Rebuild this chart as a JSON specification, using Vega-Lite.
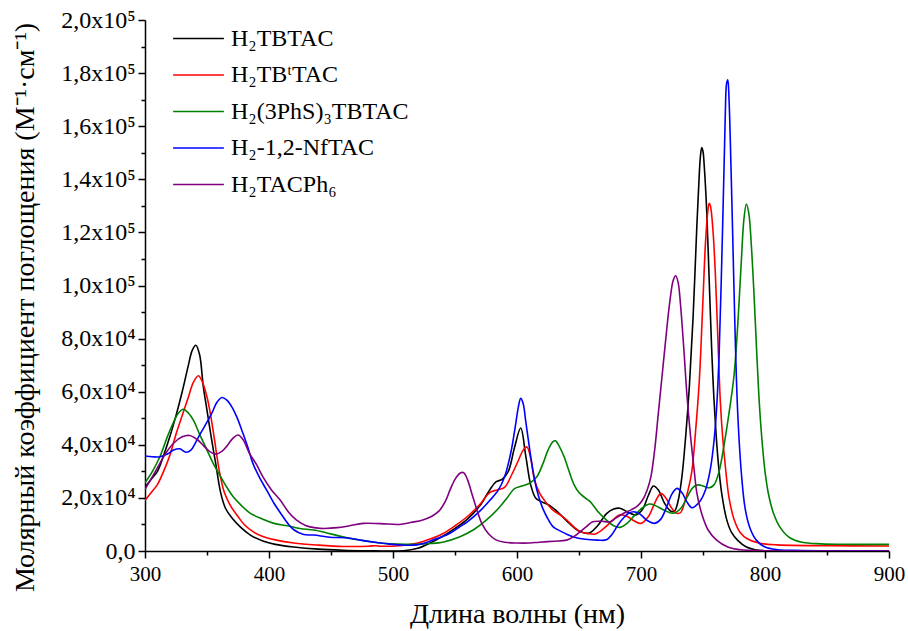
{
"$schema":"https://vega.github.io/schema/vega-lite/v6.json",
"width":744,"height":531,
"autosize":"none",
"padding":{"left":145,"top":20,"right":19,"bottom":80},
"background":"white",
"config":{"view":{"stroke":null},
"axis":{"domainColor":"black","domainWidth":1.5,"tickColor":"black","tickWidth":1.5,"grid":false,"labelColor":"black","titleColor":"black","labelFont":"Liberation Serif","titleFont":"Liberation Serif","titleFontWeight":"normal","labelFontSize":21,"titleFontSize":28,"labelFlush":false}},
"data":{"values":[
{"s":"H₂TBTAC","x":300,"y":24000},{"s":"H₂TBTAC","x":305,"y":27000},{"s":"H₂TBTAC","x":310,"y":30000},{"s":"H₂TBTAC","x":315,"y":36000},{"s":"H₂TBTAC","x":320,"y":43000},{"s":"H₂TBTAC","x":325,"y":51000},{"s":"H₂TBTAC","x":330,"y":60000},{"s":"H₂TBTAC","x":335,"y":70000},{"s":"H₂TBTAC","x":338,"y":75500},{"s":"H₂TBTAC","x":341,"y":77500},{"s":"H₂TBTAC","x":344,"y":74000},{"s":"H₂TBTAC","x":347,"y":62000},{"s":"H₂TBTAC","x":350,"y":53000},{"s":"H₂TBTAC","x":353,"y":44000},{"s":"H₂TBTAC","x":357,"y":33000},{"s":"H₂TBTAC","x":361,"y":22000},{"s":"H₂TBTAC","x":365,"y":16000},{"s":"H₂TBTAC","x":370,"y":12500},{"s":"H₂TBTAC","x":377,"y":9000},{"s":"H₂TBTAC","x":385,"y":6000},{"s":"H₂TBTAC","x":395,"y":3800},{"s":"H₂TBTAC","x":405,"y":2500},{"s":"H₂TBTAC","x":420,"y":1500},{"s":"H₂TBTAC","x":440,"y":700},{"s":"H₂TBTAC","x":460,"y":300},{"s":"H₂TBTAC","x":480,"y":100},{"s":"H₂TBTAC","x":500,"y":0},{"s":"H₂TBTAC","x":510,"y":200},{"s":"H₂TBTAC","x":520,"y":1000},{"s":"H₂TBTAC","x":530,"y":3000},{"s":"H₂TBTAC","x":540,"y":5500},{"s":"H₂TBTAC","x":550,"y":8500},{"s":"H₂TBTAC","x":560,"y":12000},{"s":"H₂TBTAC","x":570,"y":17000},{"s":"H₂TBTAC","x":578,"y":23000},{"s":"H₂TBTAC","x":583,"y":26000},{"s":"H₂TBTAC","x":588,"y":27000},{"s":"H₂TBTAC","x":593,"y":30000},{"s":"H₂TBTAC","x":598,"y":39000},{"s":"H₂TBTAC","x":603,"y":46300},{"s":"H₂TBTAC","x":607,"y":36000},{"s":"H₂TBTAC","x":611,"y":25000},{"s":"H₂TBTAC","x":615,"y":20000},{"s":"H₂TBTAC","x":620,"y":18500},{"s":"H₂TBTAC","x":626,"y":17300},{"s":"H₂TBTAC","x":634,"y":14200},{"s":"H₂TBTAC","x":642,"y":10500},{"s":"H₂TBTAC","x":650,"y":7500},{"s":"H₂TBTAC","x":658,"y":6700},{"s":"H₂TBTAC","x":665,"y":9500},{"s":"H₂TBTAC","x":672,"y":14000},{"s":"H₂TBTAC","x":678,"y":15800},{"s":"H₂TBTAC","x":683,"y":16100},{"s":"H₂TBTAC","x":690,"y":14500},{"s":"H₂TBTAC","x":696,"y":13600},{"s":"H₂TBTAC","x":701,"y":15500},{"s":"H₂TBTAC","x":706,"y":21000},{"s":"H₂TBTAC","x":710,"y":24500},{"s":"H₂TBTAC","x":714,"y":23000},{"s":"H₂TBTAC","x":719,"y":18000},{"s":"H₂TBTAC","x":724,"y":15000},{"s":"H₂TBTAC","x":727,"y":15000},{"s":"H₂TBTAC","x":730,"y":19000},{"s":"H₂TBTAC","x":733,"y":28000},{"s":"H₂TBTAC","x":736,"y":43000},{"s":"H₂TBTAC","x":739,"y":62000},{"s":"H₂TBTAC","x":742,"y":88000},{"s":"H₂TBTAC","x":745,"y":122000},{"s":"H₂TBTAC","x":747,"y":142000},{"s":"H₂TBTAC","x":748,"y":149000},{"s":"H₂TBTAC","x":749,"y":152000},{"s":"H₂TBTAC","x":750,"y":150500},{"s":"H₂TBTAC","x":751,"y":145000},{"s":"H₂TBTAC","x":753,"y":128000},{"s":"H₂TBTAC","x":755,"y":102000},{"s":"H₂TBTAC","x":757,"y":76000},{"s":"H₂TBTAC","x":759,"y":56000},{"s":"H₂TBTAC","x":762,"y":35000},{"s":"H₂TBTAC","x":765,"y":22000},{"s":"H₂TBTAC","x":769,"y":12000},{"s":"H₂TBTAC","x":773,"y":7000},{"s":"H₂TBTAC","x":778,"y":4000},{"s":"H₂TBTAC","x":785,"y":1500},{"s":"H₂TBTAC","x":792,"y":500},{"s":"H₂TBTAC","x":800,"y":100},{"s":"H₂TBTAC","x":850,"y":0},{"s":"H₂TBTAC","x":900,"y":0},

{"s":"H₂TBᵗTAC","x":300,"y":19000},{"s":"H₂TBᵗTAC","x":305,"y":22000},{"s":"H₂TBᵗTAC","x":310,"y":25000},{"s":"H₂TBᵗTAC","x":315,"y":30000},{"s":"H₂TBᵗTAC","x":320,"y":36000},{"s":"H₂TBᵗTAC","x":325,"y":44000},{"s":"H₂TBᵗTAC","x":330,"y":51000},{"s":"H₂TBᵗTAC","x":335,"y":58000},{"s":"H₂TBᵗTAC","x":339,"y":63500},{"s":"H₂TBᵗTAC","x":343,"y":66000},{"s":"H₂TBᵗTAC","x":346,"y":64000},{"s":"H₂TBᵗTAC","x":350,"y":58000},{"s":"H₂TBᵗTAC","x":353,"y":51000},{"s":"H₂TBᵗTAC","x":356,"y":42000},{"s":"H₂TBᵗTAC","x":360,"y":30000},{"s":"H₂TBᵗTAC","x":364,"y":22000},{"s":"H₂TBᵗTAC","x":369,"y":17000},{"s":"H₂TBᵗTAC","x":375,"y":13000},{"s":"H₂TBᵗTAC","x":380,"y":10000},{"s":"H₂TBᵗTAC","x":388,"y":7000},{"s":"H₂TBᵗTAC","x":395,"y":5500},{"s":"H₂TBᵗTAC","x":405,"y":4200},{"s":"H₂TBᵗTAC","x":420,"y":3000},{"s":"H₂TBᵗTAC","x":440,"y":2200},{"s":"H₂TBᵗTAC","x":460,"y":1700},{"s":"H₂TBᵗTAC","x":480,"y":1800},{"s":"H₂TBᵗTAC","x":486,"y":2000},{"s":"H₂TBᵗTAC","x":490,"y":1800},{"s":"H₂TBᵗTAC","x":505,"y":2000},{"s":"H₂TBᵗTAC","x":520,"y":3000},{"s":"H₂TBᵗTAC","x":530,"y":4500},{"s":"H₂TBᵗTAC","x":540,"y":6500},{"s":"H₂TBᵗTAC","x":550,"y":9500},{"s":"H₂TBᵗTAC","x":560,"y":13000},{"s":"H₂TBᵗTAC","x":570,"y":17500},{"s":"H₂TBᵗTAC","x":578,"y":22000},{"s":"H₂TBᵗTAC","x":584,"y":23000},{"s":"H₂TBᵗTAC","x":590,"y":24000},{"s":"H₂TBᵗTAC","x":596,"y":29000},{"s":"H₂TBᵗTAC","x":601,"y":34000},{"s":"H₂TBᵗTAC","x":605,"y":38000},{"s":"H₂TBᵗTAC","x":608,"y":39200},{"s":"H₂TBᵗTAC","x":611,"y":35000},{"s":"H₂TBᵗTAC","x":614,"y":27000},{"s":"H₂TBᵗTAC","x":618,"y":22000},{"s":"H₂TBᵗTAC","x":623,"y":18500},{"s":"H₂TBᵗTAC","x":629,"y":15400},{"s":"H₂TBᵗTAC","x":635,"y":13500},{"s":"H₂TBᵗTAC","x":640,"y":11700},{"s":"H₂TBᵗTAC","x":646,"y":9000},{"s":"H₂TBᵗTAC","x":651,"y":7300},{"s":"H₂TBᵗTAC","x":657,"y":6600},{"s":"H₂TBᵗTAC","x":663,"y":6400},{"s":"H₂TBᵗTAC","x":670,"y":8500},{"s":"H₂TBᵗTAC","x":677,"y":11500},{"s":"H₂TBᵗTAC","x":683,"y":13600},{"s":"H₂TBᵗTAC","x":689,"y":13000},{"s":"H₂TBᵗTAC","x":695,"y":11200},{"s":"H₂TBᵗTAC","x":700,"y":10400},{"s":"H₂TBᵗTAC","x":706,"y":13000},{"s":"H₂TBᵗTAC","x":712,"y":19000},{"s":"H₂TBᵗTAC","x":716,"y":21700},{"s":"H₂TBᵗTAC","x":720,"y":20000},{"s":"H₂TBᵗTAC","x":725,"y":16000},{"s":"H₂TBᵗTAC","x":729,"y":14200},{"s":"H₂TBᵗTAC","x":732,"y":14500},{"s":"H₂TBᵗTAC","x":735,"y":18000},{"s":"H₂TBᵗTAC","x":738,"y":23000},{"s":"H₂TBᵗTAC","x":741,"y":30000},{"s":"H₂TBᵗTAC","x":744,"y":45000},{"s":"H₂TBᵗTAC","x":747,"y":64000},{"s":"H₂TBᵗTAC","x":750,"y":95000},{"s":"H₂TBᵗTAC","x":752,"y":116000},{"s":"H₂TBᵗTAC","x":754,"y":128500},{"s":"H₂TBᵗTAC","x":755,"y":131000},{"s":"H₂TBᵗTAC","x":756,"y":130000},{"s":"H₂TBᵗTAC","x":758,"y":121000},{"s":"H₂TBᵗTAC","x":760,"y":104000},{"s":"H₂TBᵗTAC","x":762,"y":80000},{"s":"H₂TBᵗTAC","x":764,"y":56000},{"s":"H₂TBᵗTAC","x":766,"y":42000},{"s":"H₂TBᵗTAC","x":768,"y":32000},{"s":"H₂TBᵗTAC","x":771,"y":20000},{"s":"H₂TBᵗTAC","x":775,"y":12000},{"s":"H₂TBᵗTAC","x":780,"y":7000},{"s":"H₂TBᵗTAC","x":786,"y":4500},{"s":"H₂TBᵗTAC","x":795,"y":3000},{"s":"H₂TBᵗTAC","x":810,"y":2300},{"s":"H₂TBᵗTAC","x":850,"y":2000},{"s":"H₂TBᵗTAC","x":900,"y":1900},

{"s":"H₂(3PhS)₃TBTAC","x":300,"y":25700},{"s":"H₂(3PhS)₃TBTAC","x":306,"y":30000},{"s":"H₂(3PhS)₃TBTAC","x":312,"y":35500},{"s":"H₂(3PhS)₃TBTAC","x":318,"y":43000},{"s":"H₂(3PhS)₃TBTAC","x":323,"y":48500},{"s":"H₂(3PhS)₃TBTAC","x":327,"y":52000},{"s":"H₂(3PhS)₃TBTAC","x":331,"y":53400},{"s":"H₂(3PhS)₃TBTAC","x":335,"y":52000},{"s":"H₂(3PhS)₃TBTAC","x":339,"y":49300},{"s":"H₂(3PhS)₃TBTAC","x":344,"y":44000},{"s":"H₂(3PhS)₃TBTAC","x":350,"y":38000},{"s":"H₂(3PhS)₃TBTAC","x":355,"y":33000},{"s":"H₂(3PhS)₃TBTAC","x":361,"y":28000},{"s":"H₂(3PhS)₃TBTAC","x":366,"y":24000},{"s":"H₂(3PhS)₃TBTAC","x":371,"y":20500},{"s":"H₂(3PhS)₃TBTAC","x":378,"y":17000},{"s":"H₂(3PhS)₃TBTAC","x":385,"y":14200},{"s":"H₂(3PhS)₃TBTAC","x":395,"y":12000},{"s":"H₂(3PhS)₃TBTAC","x":404,"y":10400},{"s":"H₂(3PhS)₃TBTAC","x":415,"y":9500},{"s":"H₂(3PhS)₃TBTAC","x":425,"y":8500},{"s":"H₂(3PhS)₃TBTAC","x":436,"y":7900},{"s":"H₂(3PhS)₃TBTAC","x":446,"y":6900},{"s":"H₂(3PhS)₃TBTAC","x":457,"y":5600},{"s":"H₂(3PhS)₃TBTAC","x":468,"y":4500},{"s":"H₂(3PhS)₃TBTAC","x":479,"y":3700},{"s":"H₂(3PhS)₃TBTAC","x":490,"y":3000},{"s":"H₂(3PhS)₃TBTAC","x":498,"y":2700},{"s":"H₂(3PhS)₃TBTAC","x":510,"y":2500},{"s":"H₂(3PhS)₃TBTAC","x":519,"y":2500},{"s":"H₂(3PhS)₃TBTAC","x":530,"y":2800},{"s":"H₂(3PhS)₃TBTAC","x":540,"y":3300},{"s":"H₂(3PhS)₃TBTAC","x":554,"y":5400},{"s":"H₂(3PhS)₃TBTAC","x":565,"y":8000},{"s":"H₂(3PhS)₃TBTAC","x":575,"y":11500},{"s":"H₂(3PhS)₃TBTAC","x":585,"y":16000},{"s":"H₂(3PhS)₃TBTAC","x":592,"y":20000},{"s":"H₂(3PhS)₃TBTAC","x":598,"y":23500},{"s":"H₂(3PhS)₃TBTAC","x":604,"y":24500},{"s":"H₂(3PhS)₃TBTAC","x":610,"y":25500},{"s":"H₂(3PhS)₃TBTAC","x":616,"y":28000},{"s":"H₂(3PhS)₃TBTAC","x":621,"y":33000},{"s":"H₂(3PhS)₃TBTAC","x":625,"y":38000},{"s":"H₂(3PhS)₃TBTAC","x":629,"y":41200},{"s":"H₂(3PhS)₃TBTAC","x":631,"y":41500},{"s":"H₂(3PhS)₃TBTAC","x":634,"y":39500},{"s":"H₂(3PhS)₃TBTAC","x":638,"y":35500},{"s":"H₂(3PhS)₃TBTAC","x":642,"y":30000},{"s":"H₂(3PhS)₃TBTAC","x":646,"y":25000},{"s":"H₂(3PhS)₃TBTAC","x":650,"y":22000},{"s":"H₂(3PhS)₃TBTAC","x":655,"y":20000},{"s":"H₂(3PhS)₃TBTAC","x":659,"y":18600},{"s":"H₂(3PhS)₃TBTAC","x":665,"y":15000},{"s":"H₂(3PhS)₃TBTAC","x":672,"y":11700},{"s":"H₂(3PhS)₃TBTAC","x":678,"y":9500},{"s":"H₂(3PhS)₃TBTAC","x":683,"y":8900},{"s":"H₂(3PhS)₃TBTAC","x":689,"y":10500},{"s":"H₂(3PhS)₃TBTAC","x":695,"y":13500},{"s":"H₂(3PhS)₃TBTAC","x":701,"y":16200},{"s":"H₂(3PhS)₃TBTAC","x":707,"y":17700},{"s":"H₂(3PhS)₃TBTAC","x":712,"y":17000},{"s":"H₂(3PhS)₃TBTAC","x":718,"y":15500},{"s":"H₂(3PhS)₃TBTAC","x":726,"y":14200},{"s":"H₂(3PhS)₃TBTAC","x":732,"y":16000},{"s":"H₂(3PhS)₃TBTAC","x":738,"y":21000},{"s":"H₂(3PhS)₃TBTAC","x":742,"y":24000},{"s":"H₂(3PhS)₃TBTAC","x":746,"y":24900},{"s":"H₂(3PhS)₃TBTAC","x":750,"y":24500},{"s":"H₂(3PhS)₃TBTAC","x":755,"y":23800},{"s":"H₂(3PhS)₃TBTAC","x":759,"y":25000},{"s":"H₂(3PhS)₃TBTAC","x":763,"y":30000},{"s":"H₂(3PhS)₃TBTAC","x":767,"y":40000},{"s":"H₂(3PhS)₃TBTAC","x":771,"y":52000},{"s":"H₂(3PhS)₃TBTAC","x":775,"y":66000},{"s":"H₂(3PhS)₃TBTAC","x":778,"y":85000},{"s":"H₂(3PhS)₃TBTAC","x":781,"y":110000},{"s":"H₂(3PhS)₃TBTAC","x":783,"y":125000},{"s":"H₂(3PhS)₃TBTAC","x":785,"y":130700},{"s":"H₂(3PhS)₃TBTAC","x":787,"y":127000},{"s":"H₂(3PhS)₃TBTAC","x":789,"y":115000},{"s":"H₂(3PhS)₃TBTAC","x":791,"y":98000},{"s":"H₂(3PhS)₃TBTAC","x":793,"y":78000},{"s":"H₂(3PhS)₃TBTAC","x":795,"y":59000},{"s":"H₂(3PhS)₃TBTAC","x":797,"y":45000},{"s":"H₂(3PhS)₃TBTAC","x":800,"y":30000},{"s":"H₂(3PhS)₃TBTAC","x":803,"y":21000},{"s":"H₂(3PhS)₃TBTAC","x":807,"y":14000},{"s":"H₂(3PhS)₃TBTAC","x":812,"y":9000},{"s":"H₂(3PhS)₃TBTAC","x":820,"y":5000},{"s":"H₂(3PhS)₃TBTAC","x":830,"y":3300},{"s":"H₂(3PhS)₃TBTAC","x":845,"y":2700},{"s":"H₂(3PhS)₃TBTAC","x":870,"y":2500},{"s":"H₂(3PhS)₃TBTAC","x":900,"y":2500},

{"s":"H₂-1,2-NfTAC","x":300,"y":35800},{"s":"H₂-1,2-NfTAC","x":306,"y":35500},{"s":"H₂-1,2-NfTAC","x":312,"y":35500},{"s":"H₂-1,2-NfTAC","x":318,"y":36500},{"s":"H₂-1,2-NfTAC","x":323,"y":38000},{"s":"H₂-1,2-NfTAC","x":328,"y":38500},{"s":"H₂-1,2-NfTAC","x":333,"y":37200},{"s":"H₂-1,2-NfTAC","x":337,"y":38000},{"s":"H₂-1,2-NfTAC","x":341,"y":41000},{"s":"H₂-1,2-NfTAC","x":345,"y":44500},{"s":"H₂-1,2-NfTAC","x":350,"y":48500},{"s":"H₂-1,2-NfTAC","x":354,"y":52000},{"s":"H₂-1,2-NfTAC","x":358,"y":56000},{"s":"H₂-1,2-NfTAC","x":362,"y":57800},{"s":"H₂-1,2-NfTAC","x":366,"y":56800},{"s":"H₂-1,2-NfTAC","x":370,"y":54300},{"s":"H₂-1,2-NfTAC","x":374,"y":50500},{"s":"H₂-1,2-NfTAC","x":378,"y":45600},{"s":"H₂-1,2-NfTAC","x":383,"y":39000},{"s":"H₂-1,2-NfTAC","x":387,"y":33000},{"s":"H₂-1,2-NfTAC","x":392,"y":28000},{"s":"H₂-1,2-NfTAC","x":398,"y":23000},{"s":"H₂-1,2-NfTAC","x":404,"y":18000},{"s":"H₂-1,2-NfTAC","x":409,"y":14500},{"s":"H₂-1,2-NfTAC","x":415,"y":10500},{"s":"H₂-1,2-NfTAC","x":420,"y":8000},{"s":"H₂-1,2-NfTAC","x":428,"y":6200},{"s":"H₂-1,2-NfTAC","x":436,"y":6000},{"s":"H₂-1,2-NfTAC","x":449,"y":5200},{"s":"H₂-1,2-NfTAC","x":462,"y":5000},{"s":"H₂-1,2-NfTAC","x":475,"y":4000},{"s":"H₂-1,2-NfTAC","x":487,"y":3200},{"s":"H₂-1,2-NfTAC","x":497,"y":2600},{"s":"H₂-1,2-NfTAC","x":505,"y":2300},{"s":"H₂-1,2-NfTAC","x":519,"y":2300},{"s":"H₂-1,2-NfTAC","x":532,"y":4100},{"s":"H₂-1,2-NfTAC","x":546,"y":6700},{"s":"H₂-1,2-NfTAC","x":554,"y":9200},{"s":"H₂-1,2-NfTAC","x":560,"y":11000},{"s":"H₂-1,2-NfTAC","x":570,"y":15000},{"s":"H₂-1,2-NfTAC","x":578,"y":19000},{"s":"H₂-1,2-NfTAC","x":585,"y":23000},{"s":"H₂-1,2-NfTAC","x":590,"y":28000},{"s":"H₂-1,2-NfTAC","x":595,"y":37000},{"s":"H₂-1,2-NfTAC","x":599,"y":48000},{"s":"H₂-1,2-NfTAC","x":601,"y":54000},{"s":"H₂-1,2-NfTAC","x":603,"y":57500},{"s":"H₂-1,2-NfTAC","x":605,"y":55500},{"s":"H₂-1,2-NfTAC","x":607,"y":49000},{"s":"H₂-1,2-NfTAC","x":610,"y":39000},{"s":"H₂-1,2-NfTAC","x":613,"y":30000},{"s":"H₂-1,2-NfTAC","x":616,"y":23000},{"s":"H₂-1,2-NfTAC","x":620,"y":17000},{"s":"H₂-1,2-NfTAC","x":624,"y":12900},{"s":"H₂-1,2-NfTAC","x":629,"y":9200},{"s":"H₂-1,2-NfTAC","x":635,"y":7500},{"s":"H₂-1,2-NfTAC","x":645,"y":5400},{"s":"H₂-1,2-NfTAC","x":655,"y":4400},{"s":"H₂-1,2-NfTAC","x":665,"y":4100},{"s":"H₂-1,2-NfTAC","x":672,"y":4200},{"s":"H₂-1,2-NfTAC","x":677,"y":6500},{"s":"H₂-1,2-NfTAC","x":681,"y":9500},{"s":"H₂-1,2-NfTAC","x":686,"y":12500},{"s":"H₂-1,2-NfTAC","x":690,"y":14200},{"s":"H₂-1,2-NfTAC","x":694,"y":14800},{"s":"H₂-1,2-NfTAC","x":699,"y":14000},{"s":"H₂-1,2-NfTAC","x":705,"y":11500},{"s":"H₂-1,2-NfTAC","x":711,"y":10400},{"s":"H₂-1,2-NfTAC","x":716,"y":12000},{"s":"H₂-1,2-NfTAC","x":721,"y":17000},{"s":"H₂-1,2-NfTAC","x":725,"y":21500},{"s":"H₂-1,2-NfTAC","x":729,"y":23600},{"s":"H₂-1,2-NfTAC","x":733,"y":22000},{"s":"H₂-1,2-NfTAC","x":737,"y":18500},{"s":"H₂-1,2-NfTAC","x":741,"y":16300},{"s":"H₂-1,2-NfTAC","x":744,"y":17000},{"s":"H₂-1,2-NfTAC","x":748,"y":19000},{"s":"H₂-1,2-NfTAC","x":752,"y":23000},{"s":"H₂-1,2-NfTAC","x":756,"y":31000},{"s":"H₂-1,2-NfTAC","x":759,"y":42000},{"s":"H₂-1,2-NfTAC","x":761,"y":54000},{"s":"H₂-1,2-NfTAC","x":763,"y":74000},{"s":"H₂-1,2-NfTAC","x":765,"y":107000},{"s":"H₂-1,2-NfTAC","x":767,"y":145000},{"s":"H₂-1,2-NfTAC","x":768,"y":165000},{"s":"H₂-1,2-NfTAC","x":769,"y":176000},{"s":"H₂-1,2-NfTAC","x":770,"y":177500},{"s":"H₂-1,2-NfTAC","x":771,"y":170000},{"s":"H₂-1,2-NfTAC","x":772,"y":155000},{"s":"H₂-1,2-NfTAC","x":774,"y":118000},{"s":"H₂-1,2-NfTAC","x":776,"y":80000},{"s":"H₂-1,2-NfTAC","x":778,"y":52000},{"s":"H₂-1,2-NfTAC","x":781,"y":29000},{"s":"H₂-1,2-NfTAC","x":784,"y":16000},{"s":"H₂-1,2-NfTAC","x":788,"y":8500},{"s":"H₂-1,2-NfTAC","x":793,"y":4100},{"s":"H₂-1,2-NfTAC","x":800,"y":1500},{"s":"H₂-1,2-NfTAC","x":810,"y":500},{"s":"H₂-1,2-NfTAC","x":830,"y":200},{"s":"H₂-1,2-NfTAC","x":900,"y":100},

{"s":"H₂TACPh₆","x":300,"y":23200},{"s":"H₂TACPh₆","x":306,"y":28000},{"s":"H₂TACPh₆","x":312,"y":33000},{"s":"H₂TACPh₆","x":317,"y":37000},{"s":"H₂TACPh₆","x":323,"y":40600},{"s":"H₂TACPh₆","x":330,"y":43000},{"s":"H₂TACPh₆","x":336,"y":43500},{"s":"H₂TACPh₆","x":342,"y":42000},{"s":"H₂TACPh₆","x":347,"y":39800},{"s":"H₂TACPh₆","x":352,"y":37500},{"s":"H₂TACPh₆","x":357,"y":36500},{"s":"H₂TACPh₆","x":362,"y":37500},{"s":"H₂TACPh₆","x":366,"y":39500},{"s":"H₂TACPh₆","x":371,"y":42500},{"s":"H₂TACPh₆","x":375,"y":43700},{"s":"H₂TACPh₆","x":379,"y":42000},{"s":"H₂TACPh₆","x":384,"y":37000},{"s":"H₂TACPh₆","x":390,"y":32500},{"s":"H₂TACPh₆","x":395,"y":28000},{"s":"H₂TACPh₆","x":402,"y":23000},{"s":"H₂TACPh₆","x":409,"y":19200},{"s":"H₂TACPh₆","x":416,"y":14500},{"s":"H₂TACPh₆","x":422,"y":11700},{"s":"H₂TACPh₆","x":430,"y":9500},{"s":"H₂TACPh₆","x":438,"y":8700},{"s":"H₂TACPh₆","x":445,"y":8500},{"s":"H₂TACPh₆","x":455,"y":8800},{"s":"H₂TACPh₆","x":465,"y":9500},{"s":"H₂TACPh₆","x":476,"y":10400},{"s":"H₂TACPh₆","x":490,"y":10300},{"s":"H₂TACPh₆","x":505,"y":10000},{"s":"H₂TACPh₆","x":515,"y":10800},{"s":"H₂TACPh₆","x":524,"y":11700},{"s":"H₂TACPh₆","x":531,"y":13000},{"s":"H₂TACPh₆","x":537,"y":15000},{"s":"H₂TACPh₆","x":542,"y":18500},{"s":"H₂TACPh₆","x":546,"y":23000},{"s":"H₂TACPh₆","x":550,"y":27000},{"s":"H₂TACPh₆","x":554,"y":29300},{"s":"H₂TACPh₆","x":557,"y":29500},{"s":"H₂TACPh₆","x":560,"y":27000},{"s":"H₂TACPh₆","x":564,"y":21000},{"s":"H₂TACPh₆","x":568,"y":15000},{"s":"H₂TACPh₆","x":572,"y":10000},{"s":"H₂TACPh₆","x":577,"y":6500},{"s":"H₂TACPh₆","x":583,"y":4200},{"s":"H₂TACPh₆","x":590,"y":3300},{"s":"H₂TACPh₆","x":600,"y":3000},{"s":"H₂TACPh₆","x":610,"y":3000},{"s":"H₂TACPh₆","x":618,"y":3300},{"s":"H₂TACPh₆","x":630,"y":3700},{"s":"H₂TACPh₆","x":640,"y":4100},{"s":"H₂TACPh₆","x":646,"y":5500},{"s":"H₂TACPh₆","x":651,"y":7300},{"s":"H₂TACPh₆","x":656,"y":9200},{"s":"H₂TACPh₆","x":661,"y":11000},{"s":"H₂TACPh₆","x":668,"y":11200},{"s":"H₂TACPh₆","x":675,"y":11000},{"s":"H₂TACPh₆","x":680,"y":12500},{"s":"H₂TACPh₆","x":686,"y":14200},{"s":"H₂TACPh₆","x":692,"y":15500},{"s":"H₂TACPh₆","x":697,"y":16900},{"s":"H₂TACPh₆","x":701,"y":19000},{"s":"H₂TACPh₆","x":705,"y":23000},{"s":"H₂TACPh₆","x":708,"y":28000},{"s":"H₂TACPh₆","x":711,"y":38000},{"s":"H₂TACPh₆","x":714,"y":52000},{"s":"H₂TACPh₆","x":717,"y":66000},{"s":"H₂TACPh₆","x":720,"y":80000},{"s":"H₂TACPh₆","x":723,"y":93000},{"s":"H₂TACPh₆","x":726,"y":102000},{"s":"H₂TACPh₆","x":728,"y":103700},{"s":"H₂TACPh₆","x":730,"y":101000},{"s":"H₂TACPh₆","x":732,"y":92000},{"s":"H₂TACPh₆","x":735,"y":73000},{"s":"H₂TACPh₆","x":737,"y":59000},{"s":"H₂TACPh₆","x":740,"y":43000},{"s":"H₂TACPh₆","x":743,"y":30000},{"s":"H₂TACPh₆","x":745,"y":22000},{"s":"H₂TACPh₆","x":749,"y":14000},{"s":"H₂TACPh₆","x":754,"y":8000},{"s":"H₂TACPh₆","x":761,"y":4100},{"s":"H₂TACPh₆","x":770,"y":1500},{"s":"H₂TACPh₆","x":780,"y":500},{"s":"H₂TACPh₆","x":800,"y":100},{"s":"H₂TACPh₆","x":900,"y":0}
]},
"mark":{"type":"line","strokeWidth":1.6,"interpolate":"catmull-rom","clip":true},
"encoding":{
"x":{"field":"x","type":"quantitative","scale":{"domain":[300,900],"nice":false,"zero":false},
"axis":{"title":"Длина волны (нм)","values":[300,350,400,450,500,550,600,650,700,750,800,850,900],"labelExpr":"datum.value % 100 != 0 ? '' : datum.value","tickSize":{"condition":{"test":"datum.value % 100 == 0","value":7},"value":4},"labelPadding":5,"titlePadding":16}},
"y":{"field":"y","type":"quantitative","scale":{"domain":[0,200000],"nice":false},
"axis":{"title":"Молярный коэффициент поглощения (М⁻¹·см⁻¹)","values":[0,10000,20000,30000,40000,50000,60000,70000,80000,90000,100000,110000,120000,130000,140000,150000,160000,170000,180000,190000,200000],"labelExpr":"datum.value % 20000 != 0 ? '' : datum.value == 0 ? '0,0' : (datum.value >= 100000 ? replace(format(datum.value/100000,'.1f'),'.',',') + 'x10⁵' : replace(format(datum.value/10000,'.1f'),'.',',') + 'x10⁴')","labelFontSize":24,"tickSize":{"condition":{"test":"datum.value % 20000 == 0","value":7},"value":4},"labelPadding":3,"titleX":-120,"titleY":287,"titleBaseline":"middle","titleAlign":"center","titleAngle":270}},
"color":{"field":"s","type":"nominal","scale":{"domain":["H₂TBTAC","H₂TBᵗTAC","H₂(3PhS)₃TBTAC","H₂-1,2-NfTAC","H₂TACPh₆"],"range":["#000000","#ff0000","#008000","#0000ff","#800080"]},
"legend":{"title":null,"orient":"none","legendX":32,"legendY":-3,"symbolType":"M-1.25,0H1.25","symbolSize":1650,"symbolStrokeWidth":1.6,"labelFont":"Liberation Serif","labelFontSize":24,"labelColor":"black","labelOffset":11,"labelLimit":400,"rowPadding":2.5}}
}
}
